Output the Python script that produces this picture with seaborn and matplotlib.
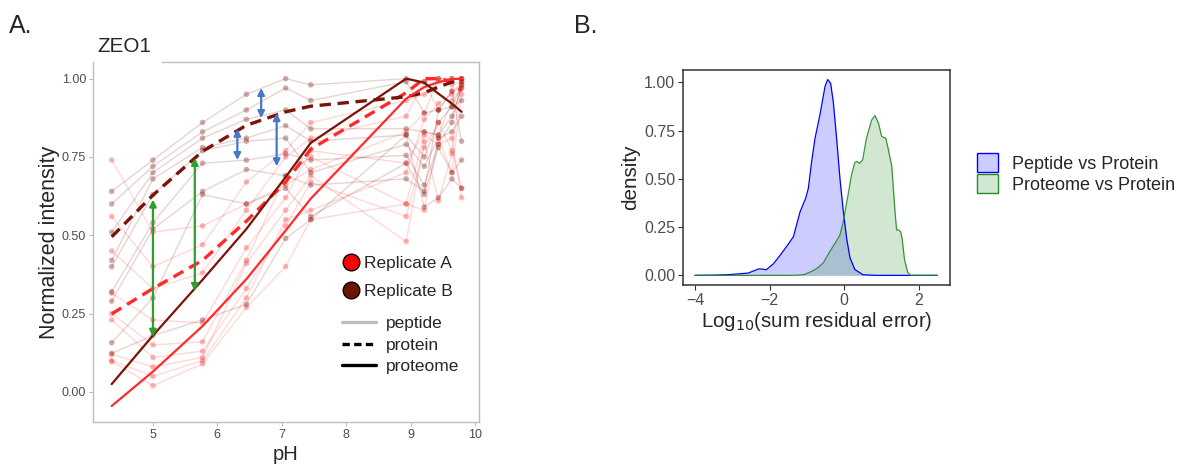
import numpy as np
import pandas as pd
import matplotlib
matplotlib.use("Agg")
import matplotlib.pyplot as plt
from matplotlib.lines import Line2D
from matplotlib.patches import Patch
from matplotlib.ticker import FormatStrFormatter
import seaborn as sns

sns.set_theme(style="white")
plt.rcParams['font.family'] = ['Liberation Sans', 'DejaVu Sans']

# ---------------- data: panel A ----------------
ph = [4.36, 5.0, 5.77, 6.45, 7.06, 7.45, 8.93, 9.21, 9.43, 9.64, 9.79]

proteome_A = [-0.045, 0.065, 0.21, 0.36, 0.515, 0.617, 0.936, 0.973, 0.989, 0.998, 1.0]
proteome_B = [0.025, 0.18, 0.358, 0.52, 0.686, 0.795, 1.0, 0.987, 0.952, 0.92, 0.894]
protein_A = [0.249, 0.33, 0.42, 0.545, 0.67, 0.775, 0.955, 1.0, 1.0, 0.99, 0.96]
protein_B = [0.495, 0.628, 0.768, 0.851, 0.894, 0.912, 0.942, 0.955, 0.973, 0.989, 1.0]

peptides_A = {
    "A1": [0.74, 0.51, 0.53, 0.60, 0.66, 0.71, 0.83, 0.89, 1.00, 1.00, 1.00],
    "A2": [0.56, 0.40, 0.47, 0.67, 0.77, 0.86, 0.93, 0.95, 0.99, 0.98, 0.99],
    "A3": [0.45, 0.33, 0.38, 0.58, 0.75, 0.81, 0.88, 0.99, 0.90, 0.96, 0.98],
    "A4": [0.315, 0.23, 0.22, 0.46, 0.62, 0.77, 0.73, 0.83, 0.82, 0.93, 0.97],
    "A5": [0.25, 0.15, 0.16, 0.42, 0.69, 0.75, 0.60, 0.82, 0.79, 0.81, 0.62],
    "A6": [0.23, 0.11, 0.13, 0.33, 0.53, 0.67, 0.56, 0.78, 0.86, 0.77, 0.65],
    "A7": [0.12, 0.08, 0.11, 0.41, 0.58, 0.69, 0.48, 0.80, 0.61, 0.76, 1.00],
    "A8": [0.10, 0.05, 0.10, 0.30, 0.55, 0.58, 0.70, 0.87, 0.92, 0.95, 0.99],
    "A9": [0.097, 0.02, 0.09, 0.27, 0.40, 0.55, 0.60, 0.58, 0.81, 0.70, 0.95],
}
peptides_B = {
    "B1": [0.64, 0.74, 0.86, 0.95, 1.00, 0.98, 1.00, 0.99, 1.00, 1.00, 1.00],
    "B2": [0.60, 0.72, 0.83, 0.90, 0.97, 0.93, 0.99, 0.89, 0.90, 0.91, 0.93],
    "B3": [0.51, 0.70, 0.81, 0.87, 0.90, 0.84, 0.84, 0.83, 0.82, 0.88, 0.97],
    "B4": [0.42, 0.68, 0.78, 0.81, 0.85, 0.80, 0.82, 0.75, 0.86, 0.91, 0.98],
    "B5": [0.40, 0.63, 0.77, 0.80, 0.81, 0.70, 0.79, 0.72, 0.81, 0.83, 0.88],
    "B6": [0.32, 0.54, 0.73, 0.74, 0.76, 0.74, 0.755, 0.66, 0.79, 0.86, 0.99],
    "B7": [0.29, 0.52, 0.64, 0.71, 0.69, 0.66, 0.68, 0.64, 0.90, 0.96, 0.80],
    "B8": [0.157, 0.30, 0.63, 0.60, 0.65, 0.56, 0.73, 0.63, 0.78, 0.70, 0.74],
    "B9": [0.123, 0.18, 0.23, 0.28, 0.49, 0.55, 0.82, 0.59, 0.62, 0.68, 0.65],
}

# arrows (pH, from, to)
green_arrows = [(5.0, 0.614, 0.176), (5.65, 0.747, 0.322)]
blue_arrows = [(6.68, 0.97, 0.874), (6.31, 0.84, 0.74), (6.92, 0.89, 0.72)]

# ---------------- data: panel B ----------------
pep_x = [-4.0, -3.5, -3.15, -2.88, -2.57, -2.40, -2.30, -2.20, -2.09, -1.90, -1.72,
         -1.54, -1.36, -1.18, -1.03, -0.96, -0.87, -0.78, -0.65, -0.51, -0.44, -0.36,
         -0.29, -0.20, -0.11, -0.02, 0.07, 0.16, 0.29, 0.51, 0.87, 1.5, 2.5]
pep_d = [0, 0.001, 0.003, 0.007, 0.012, 0.025, 0.033, 0.033, 0.029, 0.059, 0.103,
         0.15, 0.20, 0.33, 0.40, 0.45, 0.59, 0.71, 0.83, 0.98, 1.015, 0.995,
         0.90, 0.71, 0.50, 0.33, 0.19, 0.09, 0.03, 0.003, 0, 0, 0]
prot_x = [-4.0, -1.36, -1.09, -0.91, -0.74, -0.56, -0.38, -0.24, -0.11, -0.02, 0.11,
          0.20, 0.29, 0.35, 0.42, 0.50, 0.60, 0.74, 0.83, 0.92, 1.01, 1.06, 1.12,
          1.19, 1.28, 1.37, 1.41, 1.47, 1.52, 1.56, 1.62, 1.71, 1.79, 2.5]
prot_d = [0, 0, 0.003, 0.017, 0.034, 0.064, 0.124, 0.167, 0.21, 0.28, 0.42,
          0.52, 0.586, 0.59, 0.58, 0.60, 0.71, 0.805, 0.828, 0.79, 0.72, 0.715, 0.71,
          0.65, 0.565, 0.32, 0.235, 0.235, 0.225, 0.186, 0.083, 0.014, 0, 0]

# ---------------- build frames ----------------
rows = []
for rep, peps in (("Replicate A", peptides_A), ("Replicate B", peptides_B)):
    for name, vals in peps.items():
        for p, v in zip(ph, vals):
            rows.append({"replicate": rep, "peptide": name, "pH": p, "value": v})
pep_df = pd.DataFrame(rows)

RED = "#FF2B2B"
DARK = "#7A1408"
pal = {"Replicate A": RED, "Replicate B": DARK}

W, H = 1180, 465
fig = plt.figure(figsize=(W / 100, H / 100), dpi=100)

# ---------------- panel A ----------------
axA = fig.add_axes([93 / W, 1 - 422 / H, (479 - 93) / W, (422 - 62) / H])
sns.lineplot(data=pep_df, x="pH", y="value", hue="replicate", units="peptide",
             estimator=None, palette=pal, alpha=0.18, lw=1.0, legend=False, ax=axA)
sns.scatterplot(data=pep_df, x="pH", y="value", hue="replicate", palette=pal,
                alpha=0.35, s=16, linewidth=0, legend=False, ax=axA)
sns.lineplot(x=ph, y=protein_A, color=RED, lw=2.4, ax=axA)
axA.lines[-1].set_dashes([3.4, 2.0])
sns.lineplot(x=ph, y=protein_B, color=DARK, lw=2.4, ax=axA)
axA.lines[-1].set_dashes([3.4, 2.0])
sns.lineplot(x=ph, y=proteome_A, color=RED, lw=1.6, ax=axA)
sns.lineplot(x=ph, y=proteome_B, color=DARK, lw=1.6, ax=axA)

for x, y0, y1 in green_arrows:
    axA.annotate("", xy=(x, y1), xytext=(x, y0),
                 arrowprops=dict(arrowstyle="<|-|>", color="#2E9E2E", lw=1.6,
                                 mutation_scale=10, shrinkA=0, shrinkB=0))
for x, y0, y1 in blue_arrows:
    axA.annotate("", xy=(x, y1), xytext=(x, y0),
                 arrowprops=dict(arrowstyle="<|-|>", color="#4677C8", lw=1.6,
                                 mutation_scale=10, shrinkA=0, shrinkB=0))

axA.set_xlim(4.07, 10.06)
axA.set_ylim(-0.096, 1.053)
axA.set_xticks([5, 6, 7, 8, 9, 10])
axA.set_yticks([0, 0.25, 0.5, 0.75, 1.0])
axA.yaxis.set_major_formatter(FormatStrFormatter("%.2f"))
axA.tick_params(axis="both", labelsize=9, labelcolor="#4D4D4D", length=3,
                width=0.6, color="#AAAAAA", direction="out", bottom=True, left=True, pad=2)
for s in axA.spines.values():
    s.set_color("#BDBDBD")
    s.set_linewidth(1.0)
axA.spines["top"].set_bounds(5.14, 10.06)
axA.set_xlabel("pH", fontsize=14.5, labelpad=3)
axA.set_ylabel("Normalized intensity", fontsize=15.5, labelpad=1)

h1 = [Line2D([], [], marker="o", ls="", markerfacecolor="#FF0000", markeredgecolor="black",
             markeredgewidth=1.0, markersize=12),
      Line2D([], [], marker="o", ls="", markerfacecolor="#6E1204", markeredgecolor="black",
             markeredgewidth=1.0, markersize=12)]
leg1 = axA.legend(h1, ["Replicate A", "Replicate B"], loc="center left",
                  bbox_to_anchor=(342 / W, 1 - 277.5 / H), bbox_transform=fig.transFigure,
                  frameon=False, fontsize=12.5, handlelength=1.0, handletextpad=0.26,
                  labelspacing=0.78, borderpad=0, borderaxespad=0)
axA.add_artist(leg1)
h2 = [Line2D([], [], color="#BEBEBE", lw=2.4),
      Line2D([], [], color="black", lw=2.4, dashes=[2.2, 1.3]),
      Line2D([], [], color="black", lw=2.4)]
axA.legend(h2, ["peptide", "protein", "proteome"], loc="center left",
           bbox_to_anchor=(341.7 / W, 1 - 345.3 / H), bbox_transform=fig.transFigure,
           frameon=False, fontsize=12.5, handlelength=2.0, handletextpad=0.53,
           labelspacing=0.37, borderpad=0, borderaxespad=0)

# ---------------- panel B ----------------
axB = fig.add_axes([682.7 / W, 1 - 285 / H, (950.3 - 682.7) / W, (285 - 69.7) / H])
BLUE = "#0000FF"
GREEN = "#228B22"
axB.fill_between(pep_x, pep_d, color=BLUE, alpha=0.2, lw=0)
axB.fill_between(prot_x, prot_d, color=GREEN, alpha=0.2, lw=0)
sns.lineplot(x=pep_x, y=pep_d, color=BLUE, lw=0.9, ax=axB)
sns.lineplot(x=prot_x, y=prot_d, color=GREEN, lw=0.9, alpha=0.9, ax=axB)
axB.set_xlim(-4.33, 2.85)
axB.set_ylim(-0.05, 1.066)
axB.set_xticks([-4, -2, 0, 2])
axB.set_xticklabels(["\u22124", "\u22122", "0", "2"])
axB.set_yticks([0, 0.25, 0.5, 0.75, 1.0])
axB.yaxis.set_major_formatter(FormatStrFormatter("%.2f"))
axB.tick_params(axis="both", labelsize=11.5, labelcolor="#4D4D4D", length=3.5,
                width=0.8, color="#333333", direction="out", bottom=True, left=True, pad=2)
for s in axB.spines.values():
    s.set_color("#333333")
    s.set_linewidth(1.1)
axB.set_xlabel("Log$_{10}$(sum residual error)", fontsize=14.7, labelpad=2)
axB.set_ylabel("density", fontsize=14.9, labelpad=3)

hB = [Patch(facecolor=(0, 0, 1, 0.2), edgecolor=BLUE, lw=1.0),
      Patch(facecolor=(0.133, 0.545, 0.133, 0.2), edgecolor=GREEN, lw=1.0)]
axB.legend(hB, ["Peptide vs Protein", "Proteome vs Protein"], loc="center left",
           bbox_to_anchor=(977 / W, 1 - 173.5 / H), bbox_transform=fig.transFigure,
           frameon=False, fontsize=13, handlelength=1.15, handleheight=1.2,
           handletextpad=0.8, labelspacing=0.1, borderpad=0, borderaxespad=0)

# ---------------- titles / labels ----------------
fig.text(9 / W, 1 - 33.3 / H, "A.", fontsize=18, va="baseline", ha="left")
fig.text(574 / W, 1 - 32.7 / H, "B.", fontsize=18, va="baseline", ha="left")
fig.text(97 / W, 1 - 51.7 / H, "ZEO1", fontsize=14.9, va="baseline", ha="left")

fig.savefig("out.png", dpi=100, facecolor="white")
